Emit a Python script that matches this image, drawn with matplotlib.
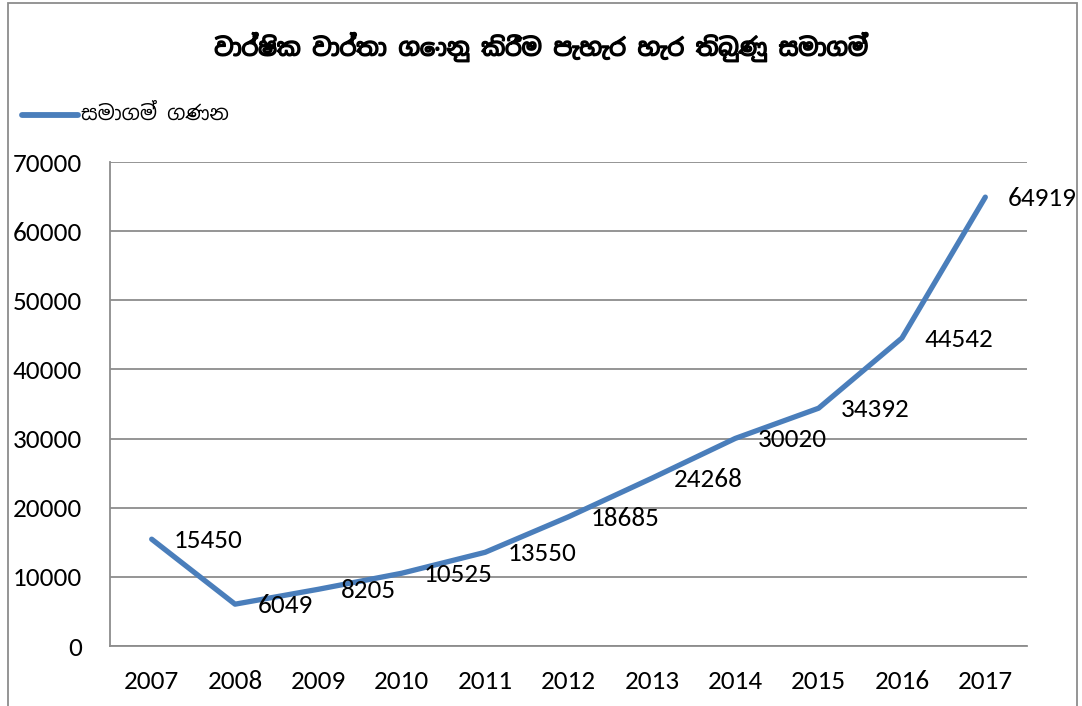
import matplotlib
matplotlib.use("Agg")
import matplotlib.pyplot as plt
import matplotlib.patheffects as pe
from matplotlib import font_manager
from matplotlib.patches import Rectangle
from matplotlib.lines import Line2D

years = ["2007", "2008", "2009", "2010", "2011", "2012", "2013", "2014", "2015", "2016", "2017"]
counts = [15450, 6049, 8205, 10525, 13550, 18685, 24268, 30020, 34392, 44542, 64919]
yticks = [0, 10000, 20000, 30000, 40000, 50000, 60000, 70000]

title = "වාර්ෂික වාර්තා ගොනු කිරීම පැහැර හැර තිබුණු සමාගම්"
seriesName = "සමාගම් ගණන"

installed = {f.name for f in font_manager.fontManager.ttflist}
numFont = [n for n in ['Carlito', 'Lato'] if n in installed][:1] + ['DejaVu Sans']
sinFont = [n for n in ['Noto Sans Sinhala', 'Abhaya Libre'] if n in installed][:1] + ['DejaVu Sans']
plt.rcParams['font.family'] = numFont

fig = plt.figure(figsize=(10.82, 7.06), dpi=100)
ax = fig.add_axes([110/1082, 1-646/706, (1027-110)/1082, (646-162)/706])

x = list(range(len(years)))
lineColor = '#4A7EBB'
ax.plot(x, counts, color=lineColor, linewidth=3.8, solid_capstyle='round', solid_joinstyle='round')

for xi, v in zip(x, counts):
    ax.annotate(str(v), (xi, v), xytext=(16, -1), textcoords='offset points',
                ha='left', va='center', fontsize=19.5, color='black')

ax.set_xlim(-0.5, len(years) - 0.5)
ax.set_ylim(0, 70000)
ax.set_xticks(x)
ax.set_xticklabels(years)
ax.set_yticks(yticks)
ax.set_yticklabels([str(t) for t in yticks])
ax.tick_params(axis='both', length=0, labelsize=19.5)
ax.tick_params(axis='x', pad=17)
ax.tick_params(axis='y', pad=20)
ax.grid(axis='y', color='#8c8c8c', linewidth=1.3)
ax.set_axisbelow(True)
for s in ['top', 'right']:
    ax.spines[s].set_visible(False)
for s in ['left', 'bottom']:
    ax.spines[s].set_color('#8c8c8c')
    ax.spines[s].set_linewidth(1.3)

fig.text(541/1082, 1-47/706, title, ha='center', va='center', fontsize=17,
         family=sinFont, path_effects=[pe.withStroke(linewidth=1.1, foreground='black')])

fig.add_artist(Line2D([22/1082, 78/1082], [1-115/706, 1-115/706], color=lineColor, linewidth=4.2,
                      solid_capstyle='round'))
fig.text(81/1082, 1-115/706, seriesName, ha='left', va='center', fontsize=14.5, family=sinFont)

fig.add_artist(Rectangle((8/1082, -0.05), (1077-8)/1082, 1.05-3/706, transform=fig.transFigure,
                         fill=False, edgecolor='#8c8c8c', linewidth=1.3))

fig.savefig("out.png", dpi=100)
